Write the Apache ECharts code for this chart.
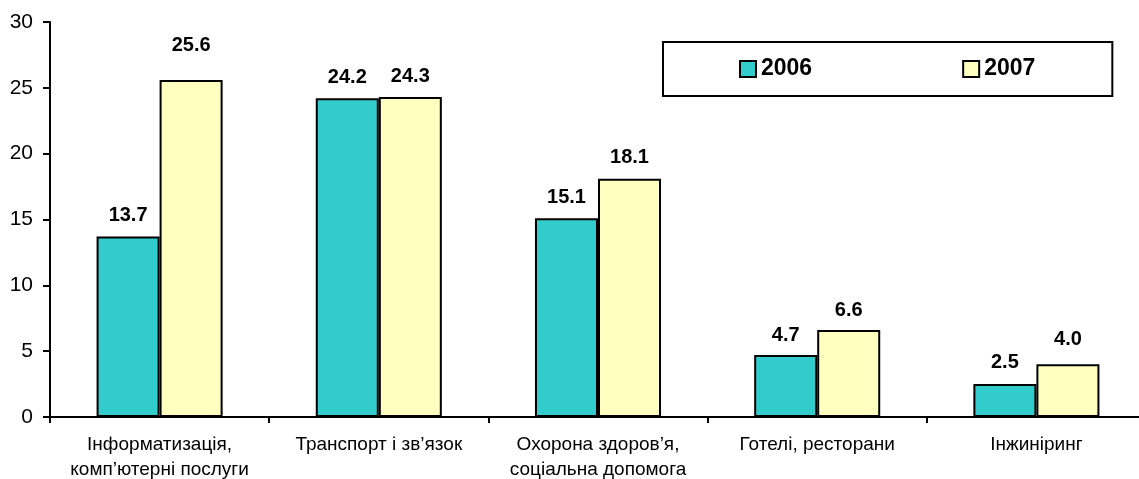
<!DOCTYPE html>
<html>
<head>
<meta charset="utf-8">
<script src="https://cdn.jsdelivr.net/npm/echarts@6/dist/echarts.min.js"></script>
<style>
html,body{margin:0;padding:0;background:#fff;overflow:hidden;}
#chart{width:1139px;height:479px;}
</style>
</head>
<body>
<div id="chart"></div>
<script>
const categories = [
  'Інформатизація,\nкомп’ютерні послуги',
  'Транспорт і зв’язок',
  'Охорона здоров’я,\nсоціальна допомога',
  'Готелі, ресторани',
  'Інжиніринг'
];
const values2006 = [13.7, 24.2, 15.1, 4.7, 2.5];
const values2007 = [25.6, 24.3, 18.1, 6.6, 4.0];
const seriesNames = ['2006', '2007'];
const yTicks = { min: 0, max: 30, interval: 5 };
// extra vertical gap of each value label above its bar (style only)
const labelGap2006 = [11, 11, 11, 10, 12];
const labelGap2007 = [24, 11, 11, 10, 15];

const FONT = '"Liberation Sans", Arial, sans-serif';

function buildData(vals, gaps) {
  return vals.map((v, i) => ({ value: v, label: { distance: gaps[i] } }));
}

const chart = echarts.init(document.getElementById('chart'));
chart.setOption({
  animation: false,
  backgroundColor: '#fff',
  textStyle: { fontFamily: FONT },
  grid: { left: 50, top: 22, width: 1096, height: 395, containLabel: false, outerBoundsMode: 'none' },
  legend: {
    data: seriesNames,
    left: 663, top: 42,
    orient: 'horizontal',
    padding: [15, 77, 15, 76],
    borderColor: '#000', borderWidth: 2,
    itemGap: 150, itemWidth: 16, itemHeight: 16,
    icon: 'rect',
    textStyle: { fontFamily: FONT, fontSize: 23, fontWeight: 'bold', color: '#000', lineHeight: 24, padding: [0, 0, 0, 0] }
  },
  xAxis: {
    type: 'category',
    data: categories,
    boundaryGap: true,
    axisLine: { show: true, lineStyle: { color: '#000', width: 2 } },
    axisTick: { show: true, length: 6, lineStyle: { color: '#000', width: 2 } },
    axisLabel: { fontFamily: FONT, fontSize: 19, color: '#000', margin: 15, lineHeight: 25, interval: 0 }
  },
  yAxis: {
    type: 'value',
    min: yTicks.min, max: yTicks.max, interval: yTicks.interval,
    axisLine: { show: true, lineStyle: { color: '#000', width: 2 } },
    axisTick: { show: true, length: 7, lineStyle: { color: '#000', width: 2 } },
    splitLine: { show: false },
    axisLabel: { fontFamily: FONT, fontSize: 21, color: '#000', margin: 17 }
  },
  series: [
    {
      name: seriesNames[0], type: 'bar',
      data: buildData(values2006, labelGap2006),
      barGap: '0%', barCategoryGap: '42.5%',
      itemStyle: { color: '#33CCCC', borderColor: '#000', borderWidth: 2 },
      label: { show: true, position: 'top', formatter: p => p.value.toFixed(1),
        fontFamily: FONT, fontSize: 20, fontWeight: 'bold', color: '#000' }
    },
    {
      name: seriesNames[1], type: 'bar',
      data: buildData(values2007, labelGap2007),
      barGap: '0%', barCategoryGap: '42.5%',
      itemStyle: { color: '#FFFFC0', borderColor: '#000', borderWidth: 2 },
      label: { show: true, position: 'top', formatter: p => p.value.toFixed(1),
        fontFamily: FONT, fontSize: 20, fontWeight: 'bold', color: '#000' }
    }
  ]
});
</script>
</body>
</html>
